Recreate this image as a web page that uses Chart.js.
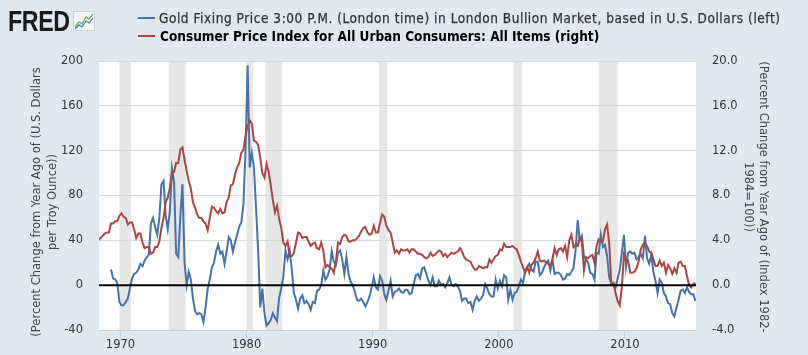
<!DOCTYPE html>
<html><head><meta charset="utf-8">
<script src="https://cdn.jsdelivr.net/npm/chart.js@4.4.1/dist/chart.umd.min.js"></script>
<style>
html,body{margin:0;padding:0;background:#e1e9f0;width:808px;height:355px;overflow:hidden;}
#wrap{position:relative;width:808px;height:355px;}
#c{position:absolute;left:0;top:0;}
.logo{position:absolute;left:8px;top:5px;font:bold 29px 'Liberation Sans',Arial,sans-serif;letter-spacing:-0.5px;color:#1a1a1a;transform:scaleX(0.8);transform-origin:0 0;}
.icon{position:absolute;left:73px;top:11px;}
.leg{position:absolute;left:138px;font-family:'Liberation Sans Narrow','DejaVu Sans Condensed',sans-serif;font-size:13.5px;white-space:nowrap;line-height:16px;}
.leg i{display:inline-block;width:17px;height:2px;vertical-align:middle;margin-right:5px;position:relative;top:-1px;}
</style></head>
<body>
<div id="wrap">
<canvas id="c" width="808" height="355"></canvas>
<div class="logo">FRED</div>
<svg class="icon" width="22" height="20" viewBox="0 0 22 20">
  <rect x="0.5" y="0.5" width="21" height="19" fill="#f4f6f8" stroke="#c8d0d8"/>
  <polyline points="2,16 6,11 9,13 13,6 16,8 20,3" fill="none" stroke="#7ab55c" stroke-width="1.5"/>
  <polyline points="2,18 6,14 9,16 13,10 16,12 20,7" fill="none" stroke="#4572a7" stroke-width="1.2"/>
</svg>
<div class="leg" id="leg1" style="top:10px;color:#333;font-weight:normal;letter-spacing:0.55px;-webkit-text-stroke:0.25px #333"><i style="background:#4572a7;margin-right:4px"></i><span id="t1"></span></div>
<div class="leg" id="leg2" style="top:28px;color:#000;font-weight:bold"><i style="background:#aa4643"></i><span id="t2"></span></div>
</div>
<script>
// ---- data (percent change from year ago), sampled every 2 months ----
// Gold: Apr 1969 .. Aug 2015 (Feb, Apr, Jun, Aug, Oct, Dec each year)
const goldStart = 1969 + 3/12;
const goldValues = [
  14, 6, 5, 2, -15,                 // 1969 (Apr-Dec)
  -18, -18, -15, -12, -3, 6,        // 1970
  10, 11, 14, 19, 17, 22,           // 1971
  25, 27, 55, 60, 52, 45,           // 1972
  60, 90, 93, 62, 50, 66,           // 1973
  104, 92, 28, 25, 62, 90,          // 1974
  20, 0, 12, 5, -12, -23,           // 1975
  -26, -25, -26, -33, -20, -3,      // 1976
  5, 16, 20, 30, 36, 28,            // 1977
  30, 19, 30, 43, 40, 30,           // 1978
  38, 45, 52, 56, 72, 120,          // 1979
  196, 105, 118, 105, 69, 31,       // 1980
  -20, -3, -25, -36, -34, -31,      // 1981
  -25, -29, -32, -11, -3, 8,        // 1982
  31, 23, 31, 14, -7, -13,          // 1983
  -21, -12, -9, -16, -14, -17,      // 1984
  -22, -15, -16, -5, -4, 0,         // 1985
  13, 5, 8, 14, 30, 21,             // 1986
  18, 29, 31, 23, 10, 25,           // 1987
  10, 3, 0, -6, -13, -14,           // 1988
  -12, -15, -19, -15, -10, -2,      // 1989
  7, -2, -4, 8, 4, -8,              // 1990
  -13, -5, 4, -10, -6, -5,          // 1991
  -3, -6, -7, -4, -4, -8,           // 1992
  -7, 1, 9, 10, 6, 15,              // 1993
  16, 10, 4, 0, 7, -1,              // 1994
  -1, 4, 0, 1, -2, 2,               // 1995
  7, 0, -1, 1, -1, -5,              // 1996
  -14, -12, -12, -16, -15, -22,     // 1997
  -14, -10, -14, -12, -9, 1,        // 1998
  -3, -8, -10, -10, 5, -3,          // 1999
  4, -1, 9, 7, -13, -4,             // 2000
  -13, -7, -6, -1, 5, 2,            // 2001
  13, 16, 19, 14, 12, 21,           // 2002
  21, 9, 11, 16, 20, 22,            // 2003
  13, 23, 10, 11, 11, 9,            // 2004
  5, 6, 10, 9, 12, 15,              // 2005
  31, 58, 40, 44, 25, 23,           // 2006
  20, 11, 10, 5, 29, 28,            // 2007
  45, 34, 36, 26, 7, 1,             // 2008
  2, -2, 6, 13, 29, 45,             // 2009
  16, 29, 30, 28, 29, 23,           // 2010
  25, 28, 24, 44, 24, 19,           // 2011
  27, 12, 4, -7, 5, 2,              // 2012
  -7, -10, -16, -17, -25, -28,      // 2013
  -20, -13, -5, -4, -7, -2,         // 2014
  -6, -8, -8, -14                   // 2015 (Feb-Aug)
];
// CPI: Apr 1968 .. Aug 2015
const cpiStart = 1968 + 3/12;
const cpiValues = [
  4.0, 4.2, 4.4, 4.6, 4.7,          // 1968 (Apr-Dec)
  4.7, 5.5, 5.5, 5.7, 5.7, 6.2,     // 1969
  6.4, 6.1, 6.0, 5.4, 5.6, 5.6,     // 1970
  5.0, 4.2, 4.6, 4.6, 3.8, 3.3,     // 1971
  3.4, 3.4, 2.8, 2.9, 3.4, 3.4,     // 1972
  3.9, 5.1, 6.0, 7.4, 7.8, 8.7,     // 1973
  10.0, 10.1, 10.9, 10.9, 12.1, 12.3, // 1974
  11.2, 10.2, 9.3, 8.6, 7.4, 6.9,   // 1975
  6.3, 6.0, 6.0, 5.7, 5.5, 4.9,     // 1976
  6.0, 7.0, 6.9, 6.6, 6.4, 6.8,     // 1977
  6.4, 6.5, 7.4, 7.8, 8.9, 9.0,     // 1978
  9.9, 10.5, 10.9, 11.8, 12.1, 13.3, // 1979
  14.2, 14.7, 14.4, 12.9, 12.8, 12.5, // 1980
  11.4, 10.0, 9.6, 10.8, 10.1, 8.9, // 1981
  7.6, 6.5, 7.1, 5.9, 5.1, 3.8,     // 1982
  3.5, 3.9, 2.6, 2.6, 2.9, 3.8,     // 1983
  4.7, 4.6, 4.2, 4.3, 4.3, 3.9,     // 1984
  3.5, 3.7, 3.8, 3.3, 3.2, 3.8,     // 1985
  3.1, 1.6, 1.8, 1.6, 1.5, 1.1,     // 1986
  2.1, 3.8, 3.7, 4.3, 4.5, 4.4,     // 1987
  3.9, 3.9, 4.0, 4.0, 4.2, 4.4,     // 1988
  4.8, 5.1, 5.2, 4.7, 4.5, 4.6,     // 1989
  5.3, 4.7, 4.7, 5.6, 6.3, 6.1,     // 1990
  5.3, 4.9, 4.7, 3.8, 2.9, 3.1,     // 1991
  2.8, 3.2, 3.1, 3.1, 3.2, 2.9,     // 1992
  3.2, 3.2, 3.0, 2.8, 2.8, 2.7,     // 1993
  2.5, 2.4, 2.5, 2.9, 2.6, 2.7,     // 1994
  2.9, 3.1, 3.0, 2.6, 2.8, 2.5,     // 1995
  2.7, 2.9, 2.8, 2.9, 3.0, 3.3,     // 1996
  3.0, 2.5, 2.3, 2.2, 2.1, 1.7,     // 1997
  1.4, 1.4, 1.7, 1.6, 1.5, 1.6,     // 1998
  1.6, 2.3, 2.0, 2.3, 2.6, 2.7,     // 1999
  3.2, 3.1, 3.7, 3.4, 3.4, 3.4,     // 2000
  3.5, 3.3, 3.2, 2.7, 2.1, 1.6,     // 2001
  1.1, 1.6, 1.1, 1.8, 2.0, 2.4,     // 2002
  3.0, 2.2, 2.1, 2.2, 2.0, 1.9,     // 2003
  1.7, 2.3, 3.3, 2.7, 3.2, 3.3,     // 2004
  3.0, 3.5, 2.5, 4.0, 4.5, 3.4,     // 2005
  3.6, 3.5, 4.3, 3.8, 1.3, 2.5,     // 2006
  2.4, 2.6, 2.7, 2.0, 3.5, 4.1,     // 2007
  4.0, 3.9, 5.0, 5.4, 3.7, 0.1,     // 2008
  0.2, -0.7, -1.4, -1.8, -0.2, 2.7, // 2009
  2.1, 2.2, 1.1, 1.1, 1.2, 1.5,     // 2010
  2.1, 3.2, 3.6, 3.8, 3.5, 3.0,     // 2011
  2.9, 2.3, 1.7, 1.7, 2.2, 1.7,     // 2012
  2.0, 1.1, 1.8, 1.5, 1.0, 1.5,     // 2013
  1.1, 2.0, 2.1, 1.7, 1.7, 0.8,     // 2014
  0.0, -0.2, 0.1, 0.2               // 2015 (Feb-Aug)
];
const stepYears = 2/12;
const xMin = 1968.3, xMax = 2015.63;
const xTicks = [1970, 1980, 1990, 2000, 2010];
const leftTicks = [-40, 0, 40, 80, 120, 160, 200];
const rightTicks = [-4, 0, 4, 8, 12, 16, 20];
const recessionStarts = [1969 + 11/12, 1973 + 10/12, 1980.0, 1981 + 6/12, 1990 + 6/12, 2001 + 2/12, 2007 + 11/12];
const recessionEnds   = [1970 + 10/12, 1975 + 2/12, 1980 + 6/12, 1982 + 10/12, 1991 + 2/12, 2001 + 10/12, 2009 + 5/12];
const leftTitle = ['(Percent Change from Year Ago of (U.S. Dollars', 'per Troy Ounce))'];
const rightTitle = ['(Percent Change from Year Ago of (Index 1982-', '1984=100))'];
const goldLabel = 'Gold Fixing Price 3:00 P.M. (London time) in London Bullion Market, based in U.S. Dollars (left)';
const cpiLabel = 'Consumer Price Index for All Urban Consumers: All Items (right)';

document.getElementById('t1').textContent = goldLabel;
document.getElementById('t2').textContent = cpiLabel;

const goldPts = goldValues.map((v, i) => ({x: goldStart + i * stepYears, y: v}));
const cpiPts = cpiValues.map((v, i) => ({x: cpiStart + i * stepYears, y: v}));

const FONT = '"DejaVu Sans", Verdana, sans-serif';

const bgPlugin = {
  id: 'bg',
  beforeDraw(chart) {
    const {ctx, chartArea: a, scales} = chart;
    ctx.save();
    ctx.fillStyle = '#ffffff';
    ctx.fillRect(a.left, a.top, a.right - a.left, a.bottom - a.top);
    ctx.fillStyle = '#e6e6e6';
    for (let i = 0; i < recessionStarts.length; i++) {
      const x1 = Math.max(a.left, scales.x.getPixelForValue(recessionStarts[i]));
      const x2 = Math.min(a.right, scales.x.getPixelForValue(recessionEnds[i]));
      ctx.fillRect(x1, a.top, x2 - x1, a.bottom - a.top);
    }
    ctx.restore();
  },
  afterDatasetsDraw(chart) {
    const {ctx, chartArea: a, scales} = chart;
    const y0 = scales.yL.getPixelForValue(0);
    ctx.save();
    ctx.strokeStyle = '#000';
    ctx.lineWidth = 2;
    ctx.beginPath(); ctx.moveTo(a.left, y0); ctx.lineTo(a.right, y0); ctx.stroke();
    ctx.restore();
  },
  afterDraw(chart) {
    const {ctx} = chart;
    ctx.save();
    ctx.font = '11.5px ' + FONT;
    ctx.fillStyle = '#444';
    ctx.textAlign = 'center';
    ctx.textBaseline = 'middle';
    ctx.save();
    ctx.translate(37.5, 202); ctx.rotate(-Math.PI / 2);
    ctx.fillText(leftTitle[0], 0, 0); ctx.fillText(leftTitle[1], 0, 15.5);
    ctx.restore();
    ctx.save();
    ctx.translate(763, 197); ctx.rotate(Math.PI / 2);
    ctx.fillText(rightTitle[0], 0, 0); ctx.fillText(rightTitle[1], 0, 15.5);
    ctx.restore();
    ctx.restore();
  }
};

new Chart(document.getElementById('c'), {
  type: 'line',
  data: {
    datasets: [
      {label: goldLabel, data: goldPts, yAxisID: 'yL', borderColor: '#4572a7', borderWidth: 2, pointRadius: 0, tension: 0, order: 2},
      {label: cpiLabel, data: cpiPts, yAxisID: 'yR', borderColor: '#aa4643', borderWidth: 2, pointRadius: 0, tension: 0, order: 1}
    ]
  },
  options: {
    responsive: false, animation: false, devicePixelRatio: 1,
    layout: {padding: {top: 61, left: 0, right: 0, bottom: 0}},
    plugins: {legend: {display: false}, tooltip: {enabled: false}},
    scales: {
      x: {
        type: 'linear', min: xMin, max: xMax,
        afterBuildTicks: s => { s.ticks = xTicks.map(v => ({value: v})); },
        afterFit: s => { s.height = 25; },
        grid: {drawOnChartArea: false, drawTicks: true, tickLength: 8, color: '#c0d0e0'},
        border: {display: true, color: '#c0d0e0'},
        ticks: {padding: 0, color: '#333', font: {family: FONT, size: 11.5}, maxRotation: 0, autoSkip: false, callback: v => String(v)}
      },
      yL: {
        position: 'left', min: -40, max: 200,
        afterBuildTicks: s => { s.ticks = leftTicks.map(v => ({value: v})); },
        afterFit: s => { s.width = 99; },
        grid: {color: '#d8d8d8', drawTicks: false},
        border: {display: false},
        ticks: {padding: 16, color: '#333', font: {family: FONT, size: 11.5}, callback: v => String(v)}
      },
      yR: {
        position: 'right', min: -4, max: 20,
        afterBuildTicks: s => { s.ticks = rightTicks.map(v => ({value: v})); },
        afterFit: s => { s.width = 112; },
        grid: {display: false, drawTicks: false},
        border: {display: false},
        ticks: {padding: 16, color: '#333', font: {family: FONT, size: 11.5}, callback: v => Number(v).toFixed(1)}
      }
    }
  },
  plugins: [bgPlugin]
});
</script>
</body></html>
